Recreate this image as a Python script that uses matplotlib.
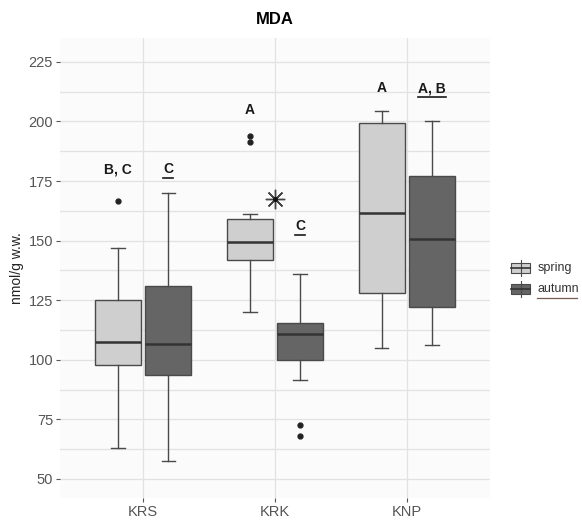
import matplotlib
matplotlib.use('Agg')
import matplotlib.pyplot as plt
from matplotlib.patches import Rectangle
from matplotlib.lines import Line2D

plt.rcParams['font.family'] = ['Liberation Sans', 'DejaVu Sans']

sites = ['KRS', 'KRK', 'KNP']
seasons = ['spring', 'autumn']

# box statistics per site, nmol/g w.w.
spring_lo = [63, 120, 105]
spring_q1 = [98, 142, 128]
spring_med = [107.5, 149.5, 161.5]
spring_q3 = [125, 159, 199.5]
spring_hi = [147, 161, 204.5]
spring_out = [[166.5], [191.5, 194], []]

autumn_lo = [57.5, 91.5, 106]
autumn_q1 = [93.5, 100, 122]
autumn_med = [106.5, 111, 150.5]
autumn_q3 = [131, 115.5, 177]
autumn_hi = [170, 136, 200]
autumn_out = [[], [68, 72.5], []]

spring_letters = ['B, C', 'A', 'A']
autumn_letters = ['C', 'C', 'A, B']
spring_letter_y = [180, 205, 214]
autumn_letter_y = [180, 156, 214]
star_y = 167.5

fills = {'spring': '#cfcfcf', 'autumn': '#656565'}
edge = '#4a4a4a'

fig = plt.figure(figsize=(5.82, 5.21), dpi=100)
ax = fig.add_axes([60 / 582, 1 - 498 / 521, 430 / 582, 460 / 521])
ax.set_facecolor('#fbfbfb')

def make_stats(lo, q1, med, q3, hi, out):
    return [dict(whislo=a, q1=b, med=c, q3=d, whishi=e, fliers=f)
            for a, b, c, d, e, f in zip(lo, q1, med, q3, hi, out)]

groups = {
    'spring': make_stats(spring_lo, spring_q1, spring_med, spring_q3, spring_hi, spring_out),
    'autumn': make_stats(autumn_lo, autumn_q1, autumn_med, autumn_q3, autumn_hi, autumn_out),
}
offsets = {'spring': -0.19, 'autumn': 0.19}

for s in seasons:
    pos = [i + 1 + offsets[s] for i in range(len(sites))]
    ax.bxp(groups[s], positions=pos, widths=0.35, patch_artist=True,
           capwidths=0.1, manage_ticks=False,
           boxprops=dict(facecolor=fills[s], edgecolor=edge, linewidth=1.0),
           medianprops=dict(color='#333333', linewidth=1.8),
           whiskerprops=dict(color=edge, linewidth=1.0),
           capprops=dict(color=edge, linewidth=1.0),
           flierprops=dict(marker='o', markersize=3.5, markerfacecolor='#222222',
                           markeredgecolor='#222222'))

# significance star between KRK boxes
ax.plot(2, star_y, marker=(8, 2, 0), markersize=14, color='#444444', mew=1.0)
ax.plot(2, star_y, marker='o', markersize=2.5, color='#111111')

ax.set_xlim(0.37, 3.63)
ax.set_ylim(42, 235)
ax.set_xticks([1, 2, 3])
ax.set_xticklabels(sites)
ax.set_yticks([50, 75, 100, 125, 150, 175, 200, 225])
ax.set_yticks([62.5, 87.5, 112.5, 137.5, 162.5, 187.5, 212.5], minor=True)
ax.tick_params(axis='both', which='major', length=3, pad=2, color='#555555',
               labelcolor='#555555', labelsize=10.5)
ax.tick_params(axis='y', which='minor', length=0)
ax.grid(True, which='major', color='#e2e2e2', linewidth=0.9)
ax.grid(True, which='minor', axis='y', color='#e2e2e2', linewidth=0.9)
ax.set_axisbelow(True)
for sp in ax.spines.values():
    sp.set_visible(False)

ax.set_ylabel('nmol/g w.w.', fontsize=10, color='#222222', labelpad=3)
ax.set_title('MDA', fontsize=12, fontweight='bold', pad=10)

# group letters, autumn ones underlined
fig.canvas.draw()
renderer = fig.canvas.get_renderer()
for i in range(len(sites)):
    ax.text(i + 1 + offsets['spring'], spring_letter_y[i], spring_letters[i],
            ha='center', va='center', fontsize=10, fontweight='bold', color='#1a1a1a')
    t = ax.text(i + 1 + offsets['autumn'], autumn_letter_y[i], autumn_letters[i],
                ha='center', va='center', fontsize=10, fontweight='bold', color='#1a1a1a')
    bb = t.get_window_extent(renderer).transformed(ax.transData.inverted())
    ax.plot([bb.x0, bb.x1], [autumn_letter_y[i] - 3.6] * 2, color='#1a1a1a', lw=1.2)

# legend keys drawn as small boxes
for j, s in enumerate(seasons):
    yc = 1 - (268 + 21 * j) / 521
    x0, w, h = 511 / 582, 19 / 582, 10 / 521
    fig.add_artist(Line2D([x0 + w / 2] * 2, [yc - h / 2 - 3 / 521, yc + h / 2 + 3 / 521],
                          color=edge, lw=0.8))
    fig.add_artist(Rectangle((x0, yc - h / 2), w, h, facecolor=fills[s],
                             edgecolor=edge, lw=0.8))
    fig.add_artist(Line2D([x0, x0 + w], [yc, yc], color='#333333', lw=1.2))
    fig.text(538 / 582, yc, s, va='center', ha='left', fontsize=9, color='#333333')
fig.add_artist(Line2D([537 / 582, 577 / 582], [1 - 298 / 521] * 2, color='#7a5a55', lw=0.9))

fig.savefig('out.png', dpi=100)
